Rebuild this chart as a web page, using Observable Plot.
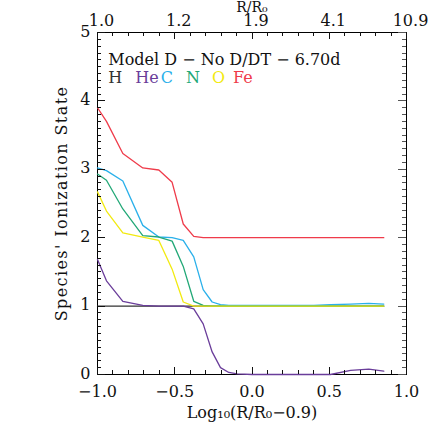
<!DOCTYPE html>
<html>
<head>
<meta charset="utf-8">
<script src="https://cdn.jsdelivr.net/npm/d3@7"></script>
<script src="https://cdn.jsdelivr.net/npm/@observablehq/plot@0.6"></script>
<style>
  html, body { margin: 0; padding: 0; background: #fff; }
  #chart svg { background: #fff; font-size: 16px; }
  #chart svg text { font-family: "DejaVu Serif", serif; }
</style>
</head>
<body>
<div id="chart"></div>
<script>
// ---- data ----
const xGrid = [-1.0, -0.942, -0.836, -0.707, -0.603, -0.517, -0.445, -0.377, -0.316, -0.258, -0.204, -0.15, -0.096, 0.0, 0.2, 0.4, 0.508, 0.638, 0.756, 0.853];
const hVals  = [1.0, 1.0, 1.0, 1.0, 1.0, 1.0, 1.0, 1.0, 1.0, 1.0, 1.0, 1.0, 1.0, 1.0, 1.0, 1.0, 1.0, 1.0, 1.0, 1.0];
const heVals = [1.68, 1.37, 1.07, 1.01, 1.0, 1.0, 1.0, 0.96, 0.74, 0.33, 0.10, 0.03, 0.01, 0.0, 0.0, 0.0, 0.0, 0.06, 0.08, 0.05];
const cVals  = [3.02, 2.98, 2.83, 2.18, 2.01, 2.00, 1.96, 1.72, 1.24, 1.06, 1.02, 1.01, 1.01, 1.01, 1.01, 1.01, 1.02, 1.03, 1.04, 1.03];
const nVals  = [2.93, 2.84, 2.42, 2.03, 2.01, 1.95, 1.58, 1.07, 1.01, 1.0, 1.0, 1.0, 1.0, 1.0, 1.0, 1.0, 1.0, 1.0, 1.0, 1.0];
const oVals  = [2.67, 2.39, 2.07, 2.01, 1.96, 1.54, 1.06, 1.0, 1.0, 1.0, 1.0, 1.0, 1.0, 1.0, 1.0, 1.0, 1.0, 1.0, 1.0, 1.0];
const feVals = [3.90, 3.70, 3.23, 3.02, 2.99, 2.81, 2.20, 2.02, 2.00, 2.00, 2.00, 2.00, 2.00, 2.00, 2.00, 2.00, 2.00, 2.00, 2.00, 2.00];

const speciesNames = ["H", "He", "C", "N", "O", "Fe"];
const speciesColors = ["#333333", "#6a3d9a", "#2ab0ea", "#22a877", "#f2ea10", "#ef3b4a"];
const speciesValues = [hVals, heVals, cVals, nVals, oVals, feVals];

const bottomTicks = [-1.0, -0.5, 0.0, 0.5, 1.0];
const bottomLabels = ["\u22121.0", "\u22120.5", "0.0", "0.5", "1.0"];
const topLabels = ["1.0", "1.2", "1.9", "4.1", "10.9"];
const yTicks = [0, 1, 2, 3, 4, 5];
const yLabels = ["0", "1", "2", "3", "4", "5"];

const titleText = "Model D \u2212 No D/DT \u2212 6.70d";
const legendText = "H HeC N O Fe";
const xTitle = "Log\u2081\u2080(R/R\u2080\u22120.9)";
const topTitle = "R/R\u2080";
const yTitle = "Species' Ionization State";

// ---- build ----
const rows = [];
speciesNames.forEach((s, i) => {
  xGrid.forEach((x, j) => rows.push({species: s, x, y: speciesValues[i][j]}));
});

const minorX = d3.range(-10, 11).map(d => d / 10);
const minorY = d3.range(0, 51).map(d => d / 10);

const marks = [
  Plot.frame({stroke: "black"}),
  Plot.axisX({anchor: "bottom", ticks: bottomTicks, tickSize: 0, tickPadding: 11,
    tickFormat: (d, i) => bottomLabels[i], label: null, fontSize: 16, fill: "#111"}),
  Plot.axisX({anchor: "top", ticks: bottomTicks, tickSize: 0, tickPadding: 7,
    tickFormat: (d, i) => topLabels[i], label: null, fontSize: 16, fill: "#111", dx: 4}),
  Plot.axisY({anchor: "left", ticks: yTicks, tickSize: 0, tickPadding: 7,
    tickFormat: (d, i) => yLabels[i], label: null, fontSize: 16, fill: "#111", dy: -1}),
];

speciesNames.forEach((s, i) => {
  marks.push(Plot.line(rows.filter(r => r.species === s), {x: "x", y: "y", stroke: speciesColors[i], strokeWidth: 1.3}));
});

marks.push(
  Plot.text([titleText], {x: -0.93, y: 4.6, text: d => d, textAnchor: "start", fontSize: 16, fill: "#111"}),
  Plot.text([legendText], {x: -0.93, y: 4.34, text: d => d, textAnchor: "start", fontSize: 16, fill: "#111"}),
  Plot.text([xTitle], {frameAnchor: "bottom", text: d => d, textAnchor: "middle", lineAnchor: "middle", dy: 38, fontSize: 16, fill: "#111"}),
  Plot.text([topTitle], {frameAnchor: "top", text: d => d, textAnchor: "middle", lineAnchor: "middle", dy: -25, fontSize: 14, fill: "#111"}),
  Plot.text([yTitle], {frameAnchor: "left", text: d => d, textAnchor: "middle", dx: -36, rotate: -90, fontSize: 16, fill: "#111"})
);

const chart = Plot.plot({
  width: 436,
  height: 436,
  marginLeft: 97,
  marginRight: 30,
  marginTop: 32,
  marginBottom: 62,
  x: {domain: [-1, 1]},
  y: {domain: [0, 5]},
  marks
});

// inward tick marks, positioned through the chart's own x and y scales
const sx = chart.scale("x"), sy = chart.scale("y");
const X = v => sx.apply(v), Y = v => sy.apply(v);
const isMajor = (v, arr) => arr.some(t => Math.abs(t - v) < 1e-9);
const tickG = d3.select(chart).append("g").attr("aria-label", "frame ticks")
  .attr("fill", "none").attr("stroke-width", 1.2).attr("shape-rendering", "crispEdges");
const y0 = Y(0), y5 = Y(5), xL = X(-1), xR = X(1);
minorX.forEach(v => {
  const len = isMajor(v, bottomTicks) ? 7 : 4;
  const x = Math.round(X(v)) + 0.5;
  tickG.append("path").attr("stroke", "#111").attr("d", `M${x},${y0}V${y0 - len}`);
  tickG.append("path").attr("stroke", "#111").attr("d", `M${x},${y5}V${y5 + len}`);
});
minorY.forEach(v => {
  const len = isMajor(v, yTicks) ? 8 : 4;
  const y = Math.round(Y(v)) + 0.5;
  tickG.append("path").attr("stroke", "#111").attr("d", `M${xL},${y}H${xL + len}`);
  tickG.append("path").attr("stroke", "#555").attr("d", `M${xR},${y}H${xR - len}`);
});

const allText = Array.from(chart.querySelectorAll("text"));
const yTitleEl = allText.find(t => t.textContent === yTitle);
if (yTitleEl) yTitleEl.style.letterSpacing = "1.4px";

// colour the legend line word by word
const legendEl = allText.find(t => t.textContent === legendText);
if (legendEl) {
  legendEl.textContent = "";
  const parts = [
    {t: "H", c: speciesColors[0], dx: 0},
    {t: "He", c: speciesColors[1], dx: 13},
    {t: "C", c: speciesColors[2], dx: 2},
    {t: "N", c: speciesColors[3], dx: 13},
    {t: "O", c: speciesColors[4], dx: 12},
    {t: "Fe", c: speciesColors[5], dx: 8}
  ];
  parts.forEach(p => {
    const ts = document.createElementNS("http://www.w3.org/2000/svg", "tspan");
    ts.textContent = p.t;
    ts.setAttribute("fill", p.c);
    if (p.dx) ts.setAttribute("dx", p.dx);
    legendEl.appendChild(ts);
  });
}

document.getElementById("chart").appendChild(chart);
</script>
</body>
</html>
